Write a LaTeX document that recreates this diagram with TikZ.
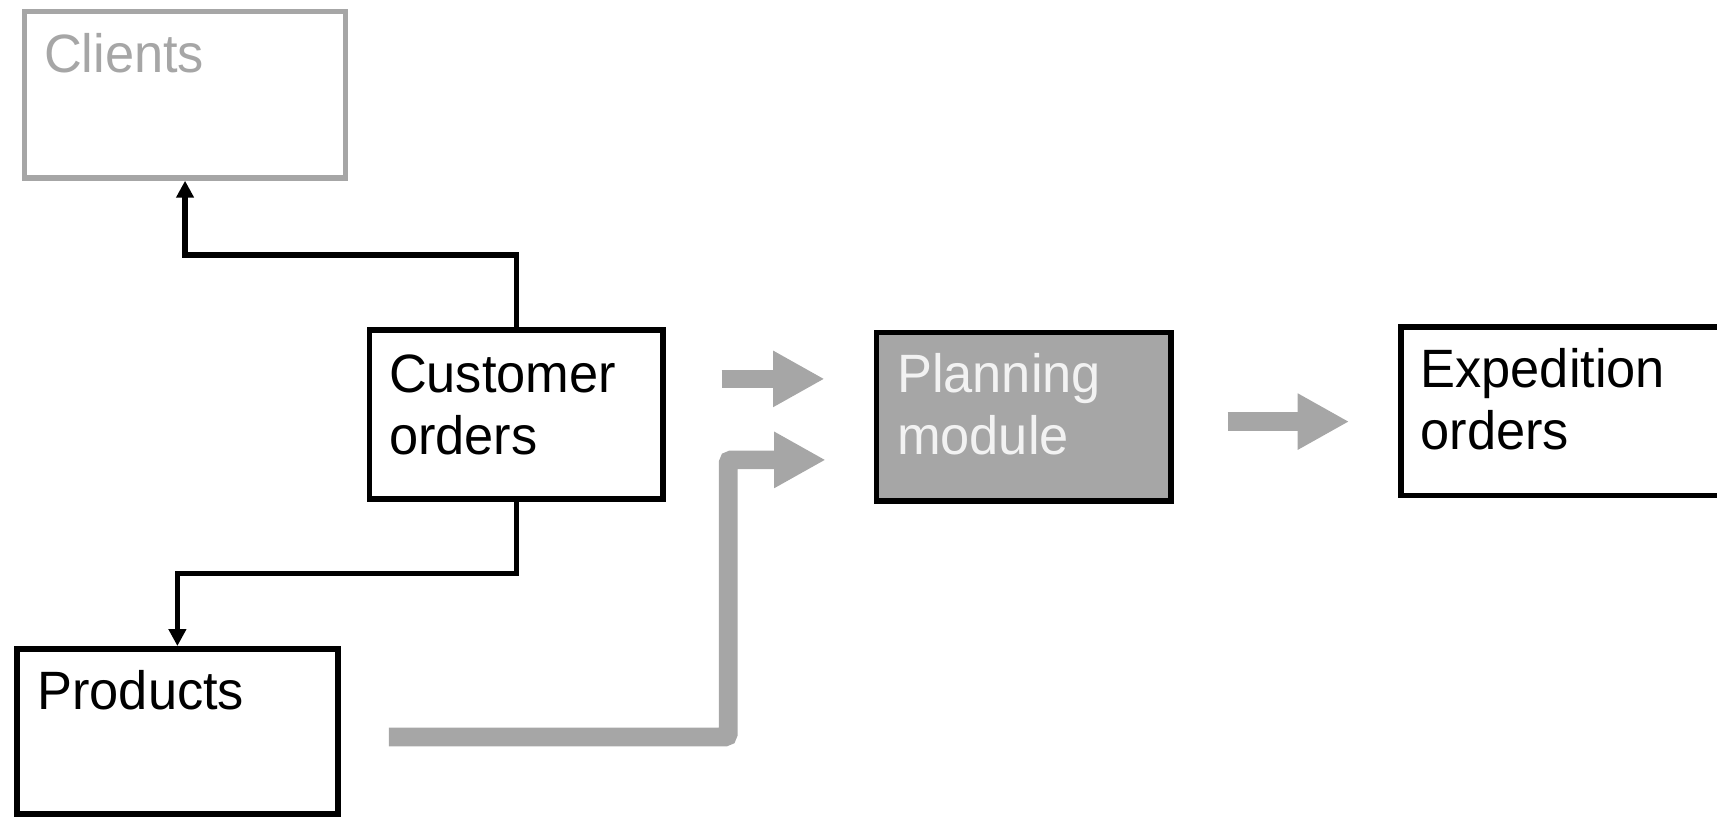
\documentclass[tikz,border=0pt]{standalone}
\usepackage{fontspec}
\setmainfont[FakeStretch=0.97]{Liberation Sans}
\usetikzlibrary{arrows.meta}
\definecolor{midgray}{HTML}{A6A6A6}
\definecolor{paletext}{HTML}{F2F2F2}
\begin{document}
\begin{tikzpicture}[x=1pt,y=-1pt,
  box/.style={draw=black,line width=5.5pt,rectangle,inner sep=0pt},
  lbl/.style={anchor=base west,inner sep=0pt,font=\fontsize{54}{62}\selectfont},
  conn/.style={draw=black,line width=5.5pt,-{Triangle[length=17pt,width=17pt]}},
  bigarrow/.style={draw=midgray,line width=18.6pt,-{Triangle[length=51.5pt,width=52.6pt]}}]
\useasboundingbox (0,0) rectangle (1717,818);
% boxes
\node[box,draw=midgray,minimum width=320.8pt,minimum height=166.4pt] (cl) at (185.05,94.75) {};
\node[box,minimum width=293.4pt,minimum height=168.7pt] (co) at (516.35,414.5) {};
\node[box,minimum width=320.9pt,minimum height=165.4pt] (pr) at (177.4,731.5) {};
\node[box,fill=midgray,minimum width=294.5pt,minimum height=168.6pt] (pm) at (1023.9,416.65) {};
\node[box,minimum width=329.2pt,minimum height=168.7pt] (eo) at (1565.4,411.2) {};
% labels
\node[lbl,text=midgray] (clt) at (43.8,72.3) {Clients};
\node[lbl] (cot1) at (388.8,392) {Customer};
\node[lbl] (cot2) at (388.8,454.5) {orders};
\node[lbl] (prt) at (37.2,709.6) {Products};
\node[lbl,text=paletext] (pmt1) at (896.9,392) {Planning};
\node[lbl,text=paletext] (pmt2) at (896.9,454.5) {module};
\node[lbl] (eot1) at (1420.3,387.7) {Expedition};
\node[lbl] (eot2) at (1420.3,449) {orders};
% black connectors
\coordinate (j1) at (515.8,255.2);
\coordinate (j2) at (515.8,573.5);
\draw[conn] (co.north) -- (co.north |- j1) -| (cl.south);
\draw[conn] (co.south) -- (co.south |- j2) -| (pr.north);
% gray arrows
\coordinate (a1s) at (721.7,378.9);
\coordinate (a1e) at (824.6,378.9);
\draw[bigarrow] (a1s) -- (a1e);
\coordinate (a2s) at (388.8,737);
\coordinate (a2c) at (728.2,737);
\coordinate (a2e) at (825.7,459.9);
\draw[bigarrow,rounded corners=3pt] (a2s) -- (a2c) |- (a2e);
\coordinate (a3s) at (1227.6,421.6);
\coordinate (a3e) at (1349.2,421.6);
\draw[bigarrow] (a3s) -- (a3e);
\end{tikzpicture}
\end{document}
